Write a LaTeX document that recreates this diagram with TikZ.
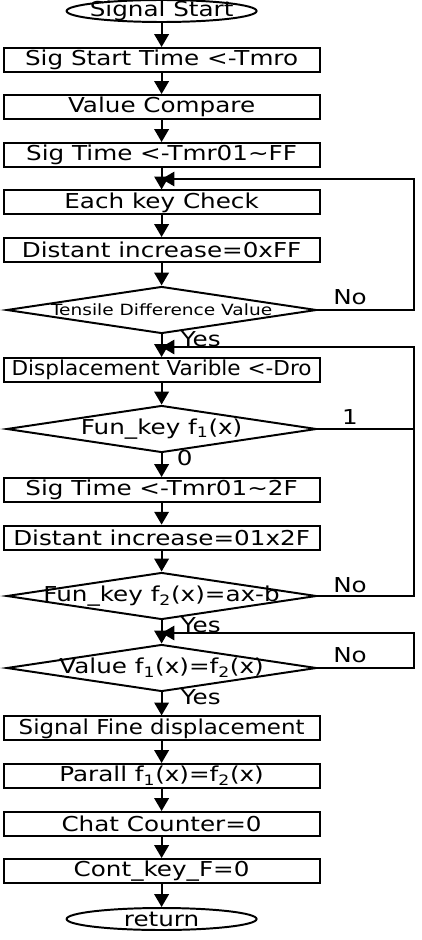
\documentclass[tikz,border=0pt]{standalone}
\usepackage{graphicx}
\usepackage{fontspec}
\setmainfont{DejaVu Sans}[FakeStretch=1.2]
\usetikzlibrary{arrows.meta,shapes.geometric}

\begin{document}
\begin{tikzpicture}[every node/.style={font=\fontsize{14.6}{17}\selectfont}, >={Triangle[length=3.2mm,width=3.6mm]}, line width=1.4pt,
	box/.style={draw, rectangle, minimum width=7.9cm, minimum height=0.6cm, inner sep=0pt},
	decision/.style={draw, diamond, minimum width=7.75cm, minimum height=1.175cm, inner sep=0pt},
	terminal/.style={draw, ellipse, minimum width=4.75cm, minimum height=0.55cm, inner sep=0pt}]
	\useasboundingbox (0,0) rectangle (10.525,-23.5);
	% main column
	\node[terminal, label=center:{Signal Start}] (start) at (4.04,-0.275) {};
	\node[box] (b1) at (4.04,-1.5) {Sig Start Time <-Tmro};
	\node[box] (b2) at (4.04,-2.675) {Value Compare};
	\node[box] (b3) at (4.04,-3.875) {Sig Time <-Tmr01∼FF};
	\node[box] (b4) at (4.04,-5.06) {Each key Check};
	\node[box] (b5) at (4.04,-6.25) {Distant increase=0xFF};
	\node[decision, label={[font=\fontsize{11}{13}\selectfont]center:Tensile Difference Value}] (d1) at (4.04,-7.75) {};
	\node[box] (b6) at (4.04,-9.25) {\scalebox{0.875}[1]{Displacement Varible <-Dro}};
	\node[decision, label=center:{Fun\_key f\textsubscript{1}(x)}] (d2) at (4.04,-10.725) {};
	\node[box] (b7) at (4.04,-12.25) {Sig Time <-Tmr01∼2F};
	\node[box] (b8) at (4.04,-13.44) {Distant increase=01x2F};
	\node[decision, label=center:{Fun\_key f\textsubscript{2}(x)=ax-b}] (d3) at (4.04,-14.9) {};
	\node[decision, label=center:{Value f\textsubscript{1}(x)=f\textsubscript{2}(x)}] (d4) at (4.04,-16.7) {};
	\node[box] (b9) at (4.04,-18.21) {\scalebox{0.93}[1]{Signal Fine displacement}};
	\node[box] (b10) at (4.04,-19.4) {Parall f\textsubscript{1}(x)=f\textsubscript{2}(x)};
	\node[box] (b11) at (4.04,-20.6) {Chat Counter=0};
	\node[box] (b12) at (4.04,-21.775) {Cont\_key\_F=0};
	\node[terminal, label=center:{return}] (stop) at (4.04,-22.975) {};

	\draw[->] (start) -- (b1);
	\draw[->] (b1) -- (b2);
	\draw[->] (b2) -- (b3);
	\draw[->] (b3) -- (b4);
	\draw[->] (b4) -- (b5);
	\draw[->] (b5) -- (d1);
	\draw[->] (d1) -- (b6);
	\draw[->] (b6) -- (d2);
	\draw[->] (d2) -- (b7);
	\draw[->] (b7) -- (b8);
	\draw[->] (b8) -- (d3);
	\draw[->] (d3) -- (d4);
	\draw[->] (d4) -- (b9);
	\draw[->] (b9) -- (b10);
	\draw[->] (b10) -- (b11);
	\draw[->] (b11) -- (b12);
	\draw[->] (b12) -- (stop);

	% loops back on the right
	\coordinate (rail) at (10.35,0);
	\coordinate (j1) at (4.04,-4.475);
	\coordinate (j2) at (4.04,-8.675);
	\coordinate (j3) at (4.04,-15.825);
	\draw[->] (d1.east) -- (d1.east -| rail) |- (j1);
	\draw[->] (d3.east) -- (d3.east -| rail) |- (j2);
	\draw (d2.east) -- (d2.east -| rail);
	\draw[->] (d4.east) -- (d4.east -| rail) |- (j3);

	\node (no1) at (8.75,-7.425) {No};
	\node (yes1) at (5.02,-8.475) {Yes};
	\node (one) at (8.75,-10.425) {1};
	\node (zero) at (4.62,-11.45) {0};
	\node (no2) at (8.75,-14.625) {No};
	\node (yes2) at (5.02,-15.625) {Yes};
	\node (no3) at (8.75,-16.375) {No};
	\node (yes3) at (5.02,-17.425) {Yes};
\end{tikzpicture}
\end{document}
